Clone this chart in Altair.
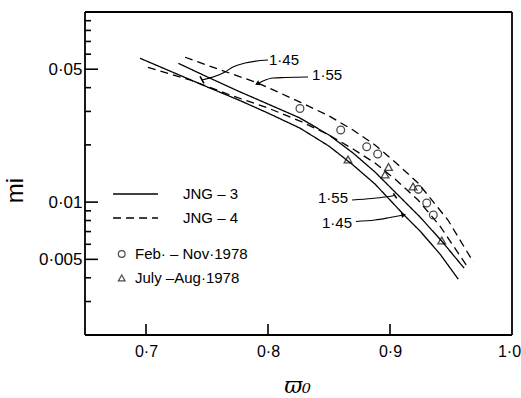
import altair as alt
import pandas as pd

W, H = 427, 323
FONT = "Liberation Sans"

# ---- model curves (omega_0, m_i) ----
jng3_145_w = [0.6951, 0.7197, 0.7504, 0.7771, 0.8000, 0.8262, 0.8500, 0.8697, 0.8877, 0.9000, 0.9123, 0.9246, 0.9410, 0.9560]
jng3_145_m = [0.0571, 0.0489, 0.0403, 0.0342, 0.0294, 0.0245, 0.0197, 0.01567, 0.01245, 0.01026, 0.00845, 0.00705, 0.00533, 0.00393]

jng3_155_w = [0.7265, 0.7504, 0.7771, 0.8000, 0.8262, 0.8500, 0.8697, 0.8877, 0.9041, 0.9246, 0.9424, 0.9607]
jng3_155_m = [0.0537, 0.0455, 0.0380, 0.0328, 0.0277, 0.02254, 0.01813, 0.0144, 0.0113, 0.00835, 0.00624, 0.0045]

jng4_145_w = [0.7016, 0.7361, 0.7689, 0.8000, 0.8262, 0.8500, 0.8697, 0.8877, 0.9041, 0.9230, 0.9410, 0.9631]
jng4_145_m = [0.0511, 0.0439, 0.0366, 0.03126, 0.0267, 0.02254, 0.01902, 0.01606, 0.01323, 0.01026, 0.00748, 0.00461]

jng4_155_w = [0.7320, 0.7504, 0.7918, 0.8262, 0.8500, 0.8697, 0.8877, 0.9041, 0.9230, 0.9475, 0.9683]
jng4_155_m = [0.0578, 0.0524, 0.0423, 0.0336, 0.0284, 0.02394, 0.01997, 0.01626, 0.0126, 0.00805, 0.00484]

# ---- observations ----
feb_nov_w = [0.8262, 0.8596, 0.8809, 0.8899, 0.9232, 0.9301, 0.9355]
feb_nov_m = [0.0311, 0.02394, 0.01956, 0.0179, 0.01167, 0.00989, 0.00855]
jul_aug_w = [0.8656, 0.8988, 0.8959, 0.9189, 0.9424]
jul_aug_m = [0.01675, 0.0153, 0.01397, 0.01208, 0.00628]

# ---- axis ticks ----
x_ticks = [0.7, 0.8, 0.9]
x_labels = [0.7, 0.8, 0.9, 1.0]
y_major = [0.05, 0.01, 0.005]
y_minor = [0.09, 0.08, 0.07, 0.06, 0.04, 0.03, 0.02, 0.009, 0.008, 0.007, 0.006, 0.004, 0.003]

# ---- annotations ----
lab_left_text = ["1·45", "1·55"]
lab_left_w = [0.8008, 0.8361]
lab_left_m = [0.0559, 0.0466]
lab_right_text = ["1·55", "1·45"]
lab_right_w = [0.8656, 0.8689]
lab_right_m = [0.01051, 0.00776]

lead_id = ["a"] * 5 + ["b"] * 5 + ["c"] * 4 + ["d"] * 4
lead_w = [0.8000, 0.7812, 0.7713, 0.7648, 0.7459,
          0.8328, 0.8139, 0.8041, 0.7959, 0.7918,
          0.8689, 0.8853, 0.8959, 0.9041,
          0.8721, 0.8877, 0.9000, 0.9107]
lead_m = [0.05591, 0.0539, 0.0514, 0.0484, 0.0439,
          0.0455, 0.0452, 0.04496, 0.04335, 0.0421,
          0.01026, 0.01045, 0.01063, 0.01083,
          0.00791, 0.00805, 0.0083, 0.00855]

bar_w = [0.7443, 0.9028]
bar_w2 = [0.7475, 0.9055]
bar_m = [0.0458, 0.01112]
bar_m2 = [0.0421, 0.01047]

head_w = [0.7918, 0.9107]
head_m = [0.0421, 0.00855]
head_a = [243, 79]

# ---- legend ----
leg_line_inst = ["JNG - 3", "JNG - 4"]
leg_line_w = [0.673, 0.673]
leg_line_w2 = [0.7098, 0.7098]
leg_line_m = [0.01103, 0.00825]
leg_line_text = ["JNG – 3", "JNG – 4"]
leg_text_w = [0.7303, 0.7303]

leg_pt_period = ["Feb - Nov 1978", "July - Aug 1978"]
leg_pt_w = [0.6801, 0.6801]
leg_pt_m = [0.00533, 0.00399]
leg_pt_text = ["Feb· – Nov·1978", "July –Aug·1978"]
leg_pt_text_w = [0.691, 0.691]

# ---- tables ----
rows = []
for inst, n, ws, ms in [("JNG - 3", "1.45", jng3_145_w, jng3_145_m),
                        ("JNG - 3", "1.55", jng3_155_w, jng3_155_m),
                        ("JNG - 4", "1.45", jng4_145_w, jng4_145_m),
                        ("JNG - 4", "1.55", jng4_155_w, jng4_155_m)]:
    for i, (w, m) in enumerate(zip(ws, ms)):
        rows.append({"inst": inst, "n": n, "i": i, "w": w, "m": m})
curves = pd.DataFrame(rows)

obs = pd.DataFrame(
    [{"period": "Feb - Nov 1978", "w": w, "m": m} for w, m in zip(feb_nov_w, feb_nov_m)]
    + [{"period": "July - Aug 1978", "w": w, "m": m} for w, m in zip(jul_aug_w, jul_aug_m)]
)

xs = alt.Scale(domain=[0.65, 1.0], nice=False, zero=False)
ys = alt.Scale(type="log", domain=[0.002, 0.1], nice=False)
dash_scale = alt.Scale(domain=["JNG - 3", "JNG - 4"], range=[[1, 0], [8, 5]])
shape_scale = alt.Scale(domain=["Feb - Nov 1978", "July - Aug 1978"], range=["circle", "triangle-up"])

x_axis = alt.Axis(values=x_labels, labelExpr="replace(format(datum.value, '.1f'), '.', '·')",
                  title="ϖ₀", titleX=212, titleY=50, titleBaseline="middle",
                  titleFont="DejaVu Serif", titleFontStyle="italic", titleFontSize=22,
                  titleFontWeight="normal", labelPadding=8, labelFlush=False,
                  labelFontSize=16,
                  labelOffset={"condition": {"test": "datum.value > 0.99", "value": -3}, "value": 0},
                  domain=False, ticks=False, tickSize=0, grid=False)
y_axis = alt.Axis(values=y_major, labelExpr="replace(toString(datum.value), '.', '·')",
                  title="mi", titleX=-70, titleY=178, titleBaseline="middle", titleAlign="center",
                  titleFont=FONT, titleFontSize=24, titleFontWeight="normal", labelPadding=3,
                  labelFontSize=17,
                  domain=False, ticks=False, tickSize=0, grid=False)


def X(field):
    return alt.X(field, scale=xs, axis=x_axis)


def Y(field):
    return alt.Y(field, scale=ys, axis=y_axis)


# frame: four sides, drawn as separate rules
frame_h = alt.Chart(pd.DataFrame({"side": ["top", "bottom"], "py": [0, H]})).mark_rule(
    color="black", strokeWidth=1.8).encode(
    x=alt.value(0), x2=alt.value(W), y=alt.Y("py:Q", scale=None))
frame_v = alt.Chart(pd.DataFrame({"side": ["left", "right"], "px": [0, W]})).mark_rule(
    color="black", strokeWidth=1.8).encode(
    y=alt.value(0), y2=alt.value(H), x=alt.X("px:Q", scale=None))

lines = alt.Chart(curves).mark_line(color="black", strokeWidth=1.3).encode(
    x=X("w:Q"), y=Y("m:Q"),
    strokeDash=alt.StrokeDash("inst:N", scale=dash_scale, legend=None),
    detail="n:N",
    order="i:Q",
)

points = alt.Chart(obs).mark_point(color="black", filled=False, strokeWidth=1.3, size=60).encode(
    x=X("w:Q"), y=Y("m:Q"),
    shape=alt.Shape("period:N", scale=shape_scale, legend=None),
)

yt_major = alt.Chart(pd.DataFrame({"v": y_major})).mark_rule(color="black", strokeWidth=1.6).encode(
    y=Y("v:Q"), x=alt.value(0), x2=alt.value(13))
yt_minor = alt.Chart(pd.DataFrame({"v": y_minor})).mark_rule(color="black", strokeWidth=1.6).encode(
    y=Y("v:Q"), x=alt.value(0), x2=alt.value(6))
xt = alt.Chart(pd.DataFrame({"v": x_ticks})).mark_rule(color="black", strokeWidth=1.6).encode(
    x=X("v:Q"), y=alt.value(H), y2=alt.value(H - 11))

ann_l = alt.Chart(pd.DataFrame({"w": lab_left_w, "m": lab_left_m, "t": lab_left_text})).mark_text(
    align="left", baseline="middle", font=FONT, fontSize=15, color="black").encode(
    x=X("w:Q"), y=Y("m:Q"), text="t:N")
ann_r = alt.Chart(pd.DataFrame({"w": lab_right_w, "m": lab_right_m, "t": lab_right_text})).mark_text(
    align="right", baseline="middle", font=FONT, fontSize=15, color="black").encode(
    x=X("w:Q"), y=Y("m:Q"), text="t:N")

lead = alt.Chart(pd.DataFrame({"id": lead_id, "w": lead_w, "m": lead_m,
                               "k": list(range(len(lead_w)))})).mark_line(
    color="black", strokeWidth=1.1, interpolate="monotone").encode(
    x=X("w:Q"), y=Y("m:Q"), detail="id:N", order="k:Q")

bars = alt.Chart(pd.DataFrame({"w": bar_w, "w2": bar_w2, "m": bar_m, "m2": bar_m2})).mark_rule(
    color="black", strokeWidth=1.6).encode(
    x=X("w:Q"), x2="w2:Q", y=Y("m:Q"), y2="m2:Q")

heads = alt.Chart(pd.DataFrame({"w": head_w, "m": head_m, "a": head_a})).mark_point(
    shape="triangle", filled=True, color="black", size=30, opacity=1).encode(
    x=X("w:Q"), y=Y("m:Q"), angle=alt.Angle("a:Q", scale=None))

leg_lines = alt.Chart(pd.DataFrame({"inst": leg_line_inst, "w": leg_line_w, "w2": leg_line_w2,
                                    "m": leg_line_m})).mark_rule(color="black", strokeWidth=1.3).encode(
    x=X("w:Q"), x2="w2:Q", y=Y("m:Q"),
    strokeDash=alt.StrokeDash("inst:N", scale=dash_scale, legend=None))
leg_line_txt = alt.Chart(pd.DataFrame({"w": leg_text_w, "m": leg_line_m, "t": leg_line_text})).mark_text(
    align="left", baseline="middle", font=FONT, fontSize=15, color="black").encode(
    x=X("w:Q"), y=Y("m:Q"), text="t:N")
leg_pts = alt.Chart(pd.DataFrame({"period": leg_pt_period, "w": leg_pt_w, "m": leg_pt_m})).mark_point(
    color="black", filled=False, strokeWidth=1.2, size=45).encode(
    x=X("w:Q"), y=Y("m:Q"),
    shape=alt.Shape("period:N", scale=shape_scale, legend=None))
leg_pt_txt = alt.Chart(pd.DataFrame({"w": leg_pt_text_w, "m": leg_pt_m, "t": leg_pt_text})).mark_text(
    align="left", baseline="middle", font=FONT, fontSize=15, color="black").encode(
    x=X("w:Q"), y=Y("m:Q"), text="t:N")

chart = alt.layer(
    lines, points, yt_major, yt_minor, xt, lead, bars, heads, ann_l, ann_r,
    leg_lines, leg_line_txt, leg_pts, leg_pt_txt, frame_h, frame_v,
).properties(
    width=W, height=H,
    autosize=alt.AutoSizeParams(type="none"),
    padding={"left": 85, "top": 12, "right": 9, "bottom": 63},
    background="white",
).configure_view(
    stroke=None
).configure_axis(
    labelFont=FONT, labelColor="black", titleColor="black",
)

chart.save("out.html", embed_options={"renderer": "svg", "actions": False})
